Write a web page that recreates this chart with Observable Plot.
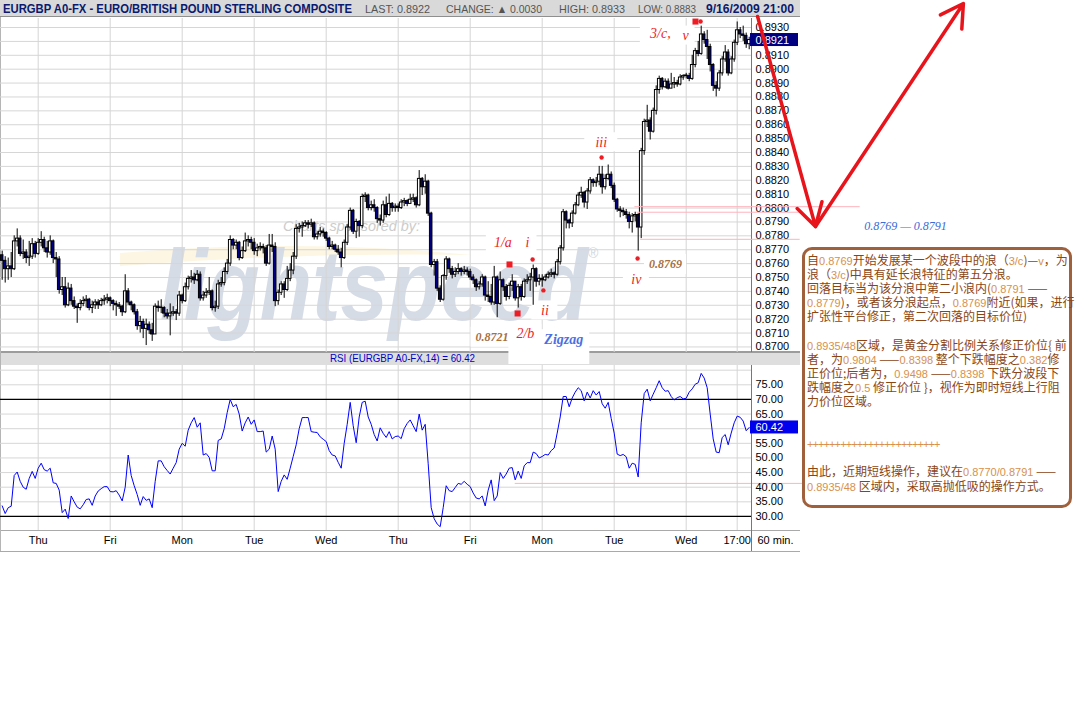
<!DOCTYPE html>
<html><head><meta charset="utf-8">
<script src="https://cdn.jsdelivr.net/npm/d3@7"></script>
<script src="https://cdn.jsdelivr.net/npm/@observablehq/plot@0.6"></script>
<style>
html,body{margin:0;padding:0;background:#fff;}
#root{position:relative;width:1089px;height:705px;overflow:hidden;background:#fff;}
#root > *{position:absolute;}
.tb{left:802px;top:247px;width:262px;height:252px;border:3px solid #a0603c;border-radius:10px;background:#fff;padding:3px 0 0 2px;font-family:"Noto Sans CJK SC",sans-serif;font-size:12px;line-height:14.1px;color:#8b4513;}
.tb div{white-space:nowrap;height:14.1px;}
.tb .n{font-family:"Liberation Sans",Arial,sans-serif;font-size:11px;color:#d8904c;}
.tb .p{letter-spacing:-0.9px;}
</style></head>
<body><div id="root"></div>
<script>
// ---------- data ----------
const dayLabels = ["Thu","Fri","Mon","Tue","Wed","Thu","Fri","Mon","Tue","Wed","17:00"];
const dayTickIndex = [12,36,60,84,108,132,156,180,204,228,245];
const priceTicks = [8700,8710,8720,8730,8740,8750,8760,8770,8780,8790,8800,8810,8820,8830,8840,8850,8860,8870,8880,8890,8900,8910,8920,8930];
const rsiTicks = [30,35,40,45,50,55,60,65,70,75];
const rsiGrid = [35,40,45,50,55,60,65,75,80];
const rsiBands = [30,70];
const firstOpen = 8766;
const closes = [
8762,8756,8758,8756,8776,8778,8767,8768,8764,8765,
8774,8767,8775,8777,8771,8768,8776,8764,8763,8741,
8743,8730,8742,8733,8729,8728,8731,8733,8734,8728,
8730,8732,8730,8733,8734,8735,8733,8731,8730,8729,
8725,8740,8732,8730,8725,8715,8718,8713,8716,8712,
8709,8729,8728,8728,8724,8722,8724,8725,8724,8737,
8733,8743,8749,8750,8748,8752,8735,8737,8739,8740,
8728,8729,8745,8746,8754,8760,8777,8773,8775,8764,
8769,8776,8777,8775,8769,8771,8772,8771,8760,8773,
8772,8733,8739,8745,8741,8749,8755,8765,8785,8786,
8787,8789,8788,8789,8779,8781,8783,8782,8778,8772,
8773,8770,8768,8764,8775,8786,8798,8783,8790,8787,
8808,8809,8800,8802,8800,8792,8791,8802,8795,8803,
8800,8801,8800,8804,8805,8803,8806,8807,8802,8821,
8815,8819,8796,8759,8761,8742,8734,8751,8763,8756,
8752,8754,8756,8754,8755,8754,8750,8748,8743,8745,
8750,8737,8736,8732,8750,8731,8748,8743,8736,8744,
8747,8735,8743,8736,8747,8748,8750,8756,8747,8749,
8748,8750,8752,8753,8752,8761,8771,8797,8791,8789,
8796,8802,8809,8811,8804,8812,8820,8818,8819,8824,
8815,8821,8824,8816,8806,8799,8798,8797,8795,8790,
8794,8795,8786,8841,8862,8863,8855,8870,8885,8893,
8887,8891,8886,8889,8890,8889,8894,8895,8895,8893,
8903,8913,8911,8925,8921,8916,8903,8888,8886,8897,
8907,8912,8897,8907,8919,8928,8925,8924,8918,8921];
const highs = [
8769,8765,8764,8768,8780,8785,8780,8777,8770,8776,
8778,8776,8778,8783,8779,8776,8780,8777,8768,8765,
8750,8750,8746,8745,8736,8731,8734,8736,8737,8735,
8733,8734,8734,8735,8737,8738,8736,8734,8733,8732,
8730,8752,8742,8733,8731,8727,8722,8720,8720,8718,
8717,8731,8733,8734,8729,8727,8731,8729,8727,8740,
8738,8746,8751,8755,8753,8755,8754,8740,8742,8750,
8741,8733,8748,8750,8757,8763,8780,8778,8777,8776,
8772,8782,8780,8779,8778,8774,8775,8774,8773,8781,
8781,8775,8741,8747,8747,8758,8760,8768,8788,8789,
8790,8791,8791,8792,8790,8783,8786,8785,8783,8779,
8776,8774,8773,8771,8777,8788,8800,8799,8792,8791,
8810,8811,8810,8805,8806,8801,8795,8805,8808,8810,
8804,8803,8803,8806,8807,8806,8810,8810,8808,8827,
8822,8824,8820,8797,8763,8763,8744,8752,8765,8764,
8758,8757,8760,8757,8758,8757,8756,8752,8749,8747,
8752,8751,8747,8745,8758,8751,8754,8749,8745,8746,
8752,8747,8745,8745,8749,8752,8753,8759,8757,8752,
8752,8752,8754,8756,8754,8763,8773,8799,8798,8792,
8798,8804,8811,8815,8812,8814,8822,8821,8822,8830,
8830,8824,8831,8826,8818,8807,8801,8800,8799,8797,
8796,8797,8796,8843,8864,8874,8865,8872,8888,8895,
8894,8893,8893,8897,8894,8892,8896,8896,8897,8897,
8910,8915,8920,8931,8927,8928,8918,8904,8891,8899,
8909,8917,8914,8909,8921,8934,8930,8931,8926,8923];
const lows = [
8748,8746,8748,8750,8755,8772,8765,8763,8760,8758,
8763,8764,8766,8772,8768,8764,8766,8760,8750,8738,
8737,8728,8729,8730,8727,8717,8726,8729,8728,8726,
8724,8727,8727,8729,8730,8731,8729,8726,8722,8727,
8722,8724,8730,8726,8723,8712,8710,8706,8701,8709,
8704,8709,8725,8724,8721,8720,8708,8722,8719,8722,
8731,8732,8741,8746,8745,8747,8733,8733,8735,8737,
8726,8725,8727,8743,8744,8752,8758,8770,8770,8762,
8763,8768,8772,8770,8766,8765,8769,8767,8758,8759,
8768,8729,8730,8737,8735,8740,8747,8752,8763,8782,
8779,8786,8785,8786,8777,8777,8779,8779,8776,8770,
8770,8768,8766,8757,8763,8773,8784,8781,8778,8779,
8785,8804,8798,8798,8797,8789,8787,8789,8793,8794,
8797,8797,8797,8799,8801,8801,8803,8804,8800,8801,
8809,8810,8794,8757,8751,8740,8732,8733,8748,8753,
8749,8750,8752,8751,8752,8751,8748,8745,8740,8741,
8743,8733,8732,8730,8730,8721,8730,8740,8733,8734,
8740,8733,8728,8733,8735,8745,8740,8730,8743,8744,
8743,8747,8749,8750,8749,8751,8759,8769,8785,8785,
8786,8795,8801,8807,8800,8799,8810,8815,8815,8816,
8810,8813,8820,8814,8804,8797,8793,8794,8792,8785,
8782,8790,8769,8778,8838,8858,8849,8854,8867,8882,
8885,8886,8885,8886,8886,8887,8888,8892,8893,8891,
8892,8901,8909,8910,8918,8907,8898,8884,8880,8884,
8895,8905,8895,8896,8905,8917,8922,8920,8915,8914];
const rsi = [
33.6,31.0,33.0,33.5,44.0,45.2,42.0,40.0,39.3,43.0,
45.4,43.0,46.5,48.2,46.0,45.5,46.5,41.5,41.3,39.0,
31.3,32.5,29.3,37.0,35.0,33.2,32.6,34.0,35.8,36.0,
33.8,37.0,38.7,39.5,40.2,40.2,38.5,38.4,38.8,37.3,
35.3,40.0,51.0,44.0,40.5,37.5,33.8,36.8,35.5,36.0,
33.0,42.0,49.0,49.0,47.0,45.7,44.5,46.5,48.4,53.0,
55.0,54.0,59.5,62.0,63.8,60.5,62.0,51.0,51.5,50.2,
45.6,45.6,56.0,56.5,60.0,65.5,70.0,67.5,68.3,65.0,
59.2,62.0,64.0,61.5,63.0,59.0,59.0,59.2,52.0,53.0,
57.5,53.0,38.5,42.0,44.2,42.7,46.5,50.5,54.5,60.0,
63.8,63.8,63.8,59.0,58.8,58.7,57.2,56.4,55.6,52.5,
51.0,50.7,48.5,46.5,55.0,61.5,69.0,61.0,55.2,64.0,
69.0,69.4,64.0,61.5,58.0,55.8,60.3,58.4,57.0,59.0,
56.5,57.3,57.5,56.6,60.0,61.8,63.0,61.0,59.0,65.0,
59.5,61.5,48.0,33.0,29.2,27.4,26.5,33.0,40.5,38.8,
38.5,39.9,41.3,41.0,42.0,41.0,40.2,38.0,36.3,36.0,
37.0,33.6,39.0,42.5,35.4,37.0,45.0,43.0,44.5,46.5,
46.7,42.5,45.5,43.0,47.3,48.4,48.4,52.0,51.5,50.0,
50.5,51.2,51.0,52.5,53.4,58.5,64.0,71.0,71.0,67.5,
70.5,72.5,74.0,73.0,69.5,72.5,70.5,73.0,71.5,72.7,
68.5,67.0,69.0,63.5,58.5,51.3,50.8,51.2,50.4,46.5,
48.2,47.8,43.5,62.0,72.0,73.5,69.5,71.8,74.0,76.4,
74.0,72.8,73.0,71.0,69.8,70.6,71.0,70.2,70.4,72.5,
73.6,75.2,75.7,78.9,77.3,74.0,65.0,56.5,52.0,51.8,
57.0,58.0,54.5,58.5,62.0,64.3,63.9,62.6,59.3,60.42];

// annotations (bar index, price in pips)
const waveLabels = ["1/a","i","ii","iii","iv","2/b","3/c,","v"];
const waveLabelIdx = [166.9,175.1,180.9,199.7,211.4,174.4,219.4,227.8];
const waveLabelPips = [8775.4,8775.4,8726.3,8847.4,8748.8,8709.5,8925.5,8924.2];
const squareIdx = [169.1,171.8,231.1];
const squarePips = [8759.4,8724.1,8934.3];
const dotIdx = [176.8,180.4,199.8,211.8,232.8];
const dotPips = [8763,8740.7,8836.4,8763.7,8934.3];
const levelNotes = ["0.8721","0.8769"];
const levelNoteIdx = [163.3,221.1];
const levelNotePips = [8707,8759.4];
const zigzagIdx = 187.2, zigzagPips = 8705.2;
const pinkLevels = [8801,8797,8777.5];
const pinkStart = [210.9,211.7,212.8];
const pinkEnd = [286,266,266];
const arrowIdx = [251.8,271.1,320.4];
const arrowPips = [8937.9,8786.7,8947.3];
const targetText = "0.8769 \u2014 0.8791";
const targetIdx = 301.1, targetPips = 8786.7;
const rsiPinkLevel = 41.3, rsiPinkStart = 171, rsiPinkEnd = 269.4;

// ---------- layout ----------
const root = document.getElementById("root");
const xDomain = [-0.567, 249.77];
const xRange = [0, 751];
const yDomain = [8696.0, 8936.5];
const rsiDomain = [25.2, 81.6];
const grid = "#d6d6d6";
const pink = "#ffb3bd";
const red = "#ee1d25";
const fontSans = "Liberation Sans, Arial, sans-serif";
const fontSerif = "Liberation Serif, Times New Roman, serif";

function add(html) {
  const t = document.createElement("div");
  t.innerHTML = html.trim();
  const el = t.firstChild;
  root.appendChild(el);
  return el;
}

// header bar
add(`<svg style="left:0;top:0" width="800" height="18">
<rect x="0" y="0" width="800" height="16" fill="#d9d9d9"/>
<line x1="0" y1="16.5" x2="800" y2="16.5" stroke="#8f8f8f"/>
<g font-family="Liberation Sans, Arial, sans-serif">
<text x="3" y="13" font-size="13" font-weight="bold" fill="#0b1a6e" textLength="349" lengthAdjust="spacingAndGlyphs">EURGBP A0-FX - EURO/BRITISH POUND STERLING COMPOSITE</text>
<text x="365" y="12.5" font-size="11" fill="#555" textLength="65" lengthAdjust="spacingAndGlyphs">LAST: 0.8922</text>
<text x="446" y="12.5" font-size="11" fill="#555" textLength="96" lengthAdjust="spacingAndGlyphs">CHANGE: \u25B2 0.0030</text>
<text x="559" y="12.5" font-size="11" fill="#555" textLength="66" lengthAdjust="spacingAndGlyphs">HIGH: 0.8933</text>
<text x="638" y="12.5" font-size="11" fill="#555" textLength="58" lengthAdjust="spacingAndGlyphs">LOW: 0.8883</text>
<text x="706" y="13" font-size="13" font-weight="bold" fill="#0b1a6e" textLength="88" lengthAdjust="spacingAndGlyphs">9/16/2009 21:00</text>
</g></svg>`);

// watermark
add(`<svg style="left:0;top:0" width="800" height="352">
<path d="M120,253 Q300,238 472,255 Q300,252 120,266 Z" fill="#fdf6e2"/>
<text x="283" y="231" font-family="Liberation Sans, Arial, sans-serif" font-size="15" font-style="italic" fill="#cccccc" textLength="137" lengthAdjust="spacingAndGlyphs">Charts sponsored by:</text>
<text x="160" y="320" font-family="Liberation Sans, Arial, sans-serif" font-size="100" font-weight="bold" font-style="italic" fill="#d6dce6" textLength="428" lengthAdjust="spacingAndGlyphs">lightspeed</text>
<text x="588" y="258" font-family="Liberation Sans, Arial, sans-serif" font-size="14" fill="#cfd5de">\u00AE</text>
</svg>`);

// RSI header + axis band
const rsiLast = rsi[rsi.length - 1];
add(`<svg style="left:0;top:351" width="800" height="14">
<rect x="0" y="0" width="800" height="14" fill="#dedede"/>
<line x1="0" y1="1" x2="800" y2="1" stroke="#9c9c9c" stroke-width="2"/>
<text x="330" y="11" font-family="Liberation Sans, Arial, sans-serif" font-size="11" fill="#0000cc" textLength="145" lengthAdjust="spacingAndGlyphs">RSI (EURGBP A0-FX,14) = ${rsiLast.toFixed(2)}</text>
</svg>`);
add(`<div style="left:0;top:530px;width:800px;height:20px;border-top:1px solid #a9a9a9;border-bottom:1px solid #a9a9a9;"></div>`);
add(`<div style="left:0;top:17px;width:1px;height:534px;background:#b5b5b5;"></div>`);

// ---------- price panel ----------
const bars = closes.map((c, i) => ({i, o: i === 0 ? firstOpen : closes[i - 1], h: highs[i], l: lows[i], c}));

function box(ix, py, w, h, tall) {
  return Plot.rect([0], {
    x1: () => ix, x2: () => ix,
    y1: () => py, y2: () => tall ? yDomain[0] : py,
    fill: "white",
    insetLeft: -w / 2, insetRight: -w / 2,
    insetTop: -h / 2, insetBottom: tall ? -12 : -h / 2
  });
}
const tallLabels = ["2/b"];
const labelBoxes = waveLabels.map((t, j) =>
  box(waveLabelIdx[j], waveLabelPips[j], t.length * 7 + 12, 19, tallLabels.includes(t)));
const noteBoxes = levelNotes.map((t, j) => box(levelNoteIdx[j], levelNotePips[j], 42, 20, false));

const pricePlot = Plot.plot({
  width: 1089, height: 366,
  marginLeft: 0, marginRight: 338, marginTop: 18, marginBottom: 14,
  x: {domain: xDomain, range: xRange, axis: null},
  y: {domain: yDomain, range: [352, 18], axis: null},
  style: {background: "transparent", fontFamily: fontSans, fontSize: "11px", overflow: "visible"},
  marks: [
    Plot.ruleY(priceTicks, {stroke: grid}),
    Plot.ruleX(dayTickIndex, {stroke: grid}),
    ...labelBoxes,
    ...noteBoxes,
    box(zigzagIdx, zigzagPips, 52, 20, true),
    Plot.ruleX(bars, {x: "i", y1: "l", y2: "h", stroke: "black", strokeWidth: 1}),
    Plot.rect(bars, {
      x1: d => d.i - 0.42, x2: d => d.i + 0.42,
      y1: "o", y2: d => d.c === d.o ? d.c + 0.5 : d.c,
      fill: d => d.c >= d.o ? "white" : "#000080",
      stroke: "black", strokeWidth: 1
    }),
    Plot.ruleX([xDomain[1]], {stroke: "#777", strokeWidth: 1}),
    Plot.text(priceTicks, {y: d => d, frameAnchor: "right", textAnchor: "start", dx: 4,
      text: d => (d / 10000).toFixed(4), fill: "black", fontSize: 11}),
    Plot.rect([closes[closes.length - 1]], {
      x1: () => xDomain[1], x2: () => xDomain[1], y1: d => d, y2: d => d,
      insetLeft: -1, insetRight: -47, insetTop: -6.5, insetBottom: -6.5, fill: "#000080"}),
    Plot.text([closes[closes.length - 1]], {y: d => d, frameAnchor: "right", textAnchor: "start", dx: 4,
      text: d => (d / 10000).toFixed(4), fill: "white", fontSize: 11}),
    Plot.ruleY(pinkLevels, {y: d => d, x1: (d, j) => pinkStart[j], x2: (d, j) => pinkEnd[j], stroke: pink, strokeWidth: 1}),
    Plot.dot(squareIdx, {x: d => d, y: (d, j) => squarePips[j], symbol: "square", r: 3.4, fill: red, stroke: null}),
    Plot.dot(dotIdx, {x: d => d, y: (d, j) => dotPips[j], r: 2.2, fill: red, stroke: null}),
    Plot.text(waveLabels, {x: (d, j) => waveLabelIdx[j], y: (d, j) => waveLabelPips[j], text: d => d,
      fill: red, fontFamily: fontSerif, fontStyle: "italic", fontSize: 14}),
    Plot.text(levelNotes, {x: (d, j) => levelNoteIdx[j], y: (d, j) => levelNotePips[j], text: d => d,
      fill: "#a8703e", fontFamily: fontSerif, fontStyle: "italic", fontWeight: "bold", fontSize: 12}),
    Plot.text(["Zigzag"], {x: () => zigzagIdx, y: () => zigzagPips, text: d => d,
      fill: "#4a6fe3", fontFamily: fontSerif, fontStyle: "italic", fontWeight: "bold", fontSize: 14}),
    Plot.text([targetText], {x: () => targetIdx, y: () => targetPips, text: d => d,
      fill: "#3a6bd6", fontFamily: fontSerif, fontStyle: "italic", fontSize: 12}),
    Plot.arrow([0, 1], {
      x1: k => arrowIdx[k], y1: k => arrowPips[k], x2: k => arrowIdx[k + 1], y2: k => arrowPips[k + 1],
      stroke: "#e8141c", strokeWidth: 3.5, headLength: 11
    })
  ]
});
pricePlot.style.left = "0px"; pricePlot.style.top = "0px"; pricePlot.style.position = "absolute";
root.appendChild(pricePlot);

// ---------- RSI panel ----------
const rsiPlot = Plot.plot({
  width: 820, height: 188,
  marginLeft: 0, marginRight: 69, marginTop: 1, marginBottom: 22,
  x: {domain: xDomain, range: xRange, axis: null},
  y: {domain: rsiDomain, range: [166, 1], axis: null},
  style: {background: "transparent", fontFamily: fontSans, fontSize: "11px", overflow: "visible"},
  marks: [
    Plot.ruleY(rsiGrid, {stroke: grid}),
    Plot.ruleX(dayTickIndex, {stroke: grid}),
    Plot.ruleY(rsiBands, {stroke: "black", strokeWidth: 1.2}),
    Plot.ruleY([rsiPinkLevel], {x1: () => rsiPinkStart, x2: () => rsiPinkEnd, stroke: pink}),
    Plot.line(rsi, {x: (d, i) => i, y: d => d, stroke: "#0000ff", strokeWidth: 1}),
    Plot.ruleX([xDomain[1]], {stroke: "#777", insetBottom: -21}),
    Plot.text(rsiTicks, {y: d => d, frameAnchor: "right", textAnchor: "start", dx: 4,
      text: d => d.toFixed(2), fill: "black", fontSize: 11}),
    Plot.rect([rsiLast], {
      x1: () => xDomain[1], x2: () => xDomain[1], y1: d => d, y2: d => d,
      insetLeft: -1, insetRight: -47, insetTop: -6.5, insetBottom: -6.5, fill: "#0000ee"}),
    Plot.text([rsiLast], {y: d => d, frameAnchor: "right", textAnchor: "start", dx: 4,
      text: d => d.toFixed(2), fill: "white", fontSize: 11}),
    Plot.text(dayTickIndex, {x: d => d, frameAnchor: "bottom", dy: 13, text: (d, j) => dayLabels[j],
      fill: "black", fontSize: 11}),
    Plot.text(["60 min."], {frameAnchor: "bottom-right", dx: 24, dy: 13, text: d => d,
      textAnchor: "middle", fill: "black", fontSize: 11})
  ]
});
rsiPlot.style.left = "0px"; rsiPlot.style.top = "364px"; rsiPlot.style.position = "absolute";
root.appendChild(rsiPlot);

// ---------- commentary box ----------
const N = s => `<span class="n">${s}</span>`;
const lines = [
  `自${N("0.8769")}开始发展某一个波段中的浪（${N("3/c")})—${N("v")}，为`,
  `浪（${N("3/c")})中具有延长浪特征的第五分浪。`,
  `回落目标当为该分浪中第二小浪内(${N("0.8791")} ——`,
  `${N("0.8779")})，或者该分浪起点，${N("0.8769")}附近(如果，进行`,
  `扩张性平台修正，第二次回落的目标价位)`,
  ``,
  `${N("0.8935/48")}区域，是黄金分割比例关系修正价位{ 前`,
  `者，为${N("0.9804")} ——${N("0.8398")} 整个下跌幅度之${N("0.382")}修`,
  `正价位;后者为，${N("0.9498")} ——${N("0.8398")} 下跌分波段下`,
  `跌幅度之${N("0.5")} 修正价位 }，视作为即时短线上行阻`,
  `力价位区域。`,
  ``, ``,
  `<span class="n p">++++++++++++++++++++++++</span>`,
  ``,
  `由此，近期短线操作，建议在${N("0.8770/0.8791")} ——`,
  `${N("0.8935/48")} 区域内，采取高抛低吸的操作方式。`
];
add(`<div class="tb">${lines.map(l => `<div>${l}</div>`).join("")}</div>`);
</script>
</body></html>
